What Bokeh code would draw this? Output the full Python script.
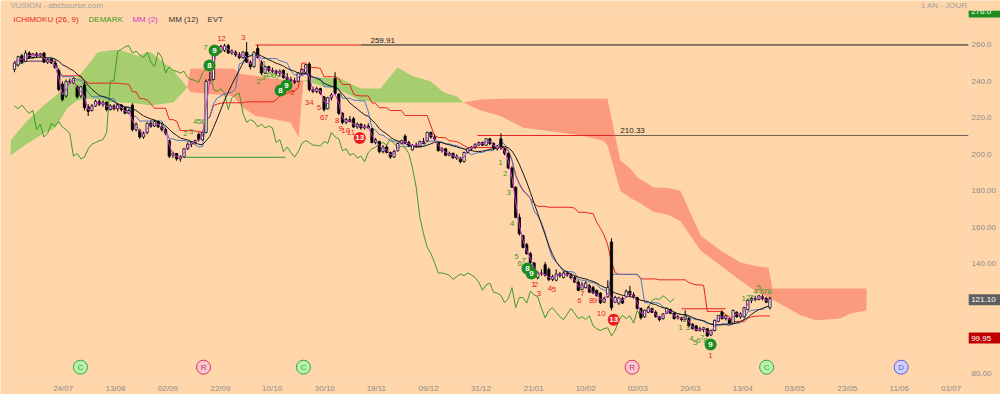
import pandas as pd
from bokeh.plotting import figure
from bokeh.models import Range1d, FixedTicker, LinearAxis, BoxAnnotation
from bokeh.embed import file_html
from bokeh.resources import INLINE
from bokeh.core.properties import value

FONT = "Liberation Sans"
BG = "#FFD6AA"
GREEN_CLOUD = "#A6CE6E"
RED_CLOUD = "#FB9A7C"

# ---------------- daily candles (trading-day index 0..205) ----------------
opens = [246.5, 249, 254, 251, 255.5, 253, 255, 254, 255.5, 250.5, 252, 250, 246, 238.5, 232, 240, 239, 237, 232, 238,
         226, 224, 226.5, 229, 227.5, 228.5, 224.5, 226.5, 225, 227, 225.5, 222.5, 227, 213.5, 213, 209.5, 212, 217, 215.5, 218,
         215, 213.5, 207.5, 199.5, 200.5, 197.5, 198.5, 203, 205.5, 206.5, 211, 208, 212, 241, 241, 256, 256.5, 257, 259.5, 255.5,
         256, 254.5, 253, 256, 250.5, 248, 258, 250.5, 244.5, 248, 246, 245.5, 244.5, 246, 242, 241, 240.5, 240, 244.5, 245,
         249.5, 235.5, 234.5, 236, 231.5, 225, 231, 241.5, 233, 222.5, 217.5, 219, 219.5, 215, 216.5, 214.5, 215.5, 214, 206.5, 207,
         201.5, 204, 201, 198.5, 202, 206, 210, 206.5, 202.5, 205, 204.5, 207, 207.5, 212, 209.5, 206.5, 202, 203, 199.5, 200.5,
         198, 198, 196, 201, 203, 204, 205, 206.5, 205, 208.5, 206, 203, 208.5, 203, 200.5, 192.5, 182, 165.5, 155.5, 150.5,
         145.6, 140.5, 132.5, 135, 139.5, 137, 131.5, 131, 134.5, 132.5, 135, 134, 132.5, 130, 126, 127, 128, 127, 125.4, 124,
         119, 122, 152, 119, 118.5, 121, 122, 125, 123, 121.5, 115.6, 111, 113.5, 115.5, 113.5, 111, 110, 113, 115, 113,
         110.5, 110.5, 109.5, 110, 107, 106, 103.5, 104, 104.5, 101, 103.5, 108.5, 113.5, 110, 110, 107.5, 113.5, 111, 111, 115,
         120, 121, 120.5, 122, 121, 116]
highs = [251, 254, 255, 257, 256.5, 255.5, 256, 255.5, 256, 252.5, 252.5, 251, 247, 240, 241, 241.5, 242, 238, 237.5, 240,
         227.5, 227.5, 230, 230, 229.5, 229, 227.5, 227.5, 228, 227.5, 226, 225, 228, 217.5, 214, 212.5, 217.5, 218.5, 219, 218.5,
         217.5, 214.5, 208, 201.5, 200.5, 199.5, 203.5, 206.5, 207, 208, 212, 212.5, 241, 245, 257.5, 259, 260, 260.5, 260.5, 257.5,
         257, 256, 256.5, 261.5, 251.5, 256.5, 260, 251.5, 248.5, 248.5, 247.5, 246.5, 246.5, 246.5, 244.5, 242.5, 242, 245, 247, 249.5,
         250.5, 237, 237, 236.5, 232, 231.5, 233.5, 245, 233.5, 223, 220, 221, 220.5, 217.5, 217, 216.5, 217, 214.5, 209, 207.5,
         205, 205, 201.5, 202.5, 206.5, 208, 211, 207.5, 205.5, 206.5, 207.5, 209, 212.5, 212.5, 211, 207, 204, 203.5, 201.5, 201,
         200, 198.5, 201.5, 203.5, 204.5, 206, 207, 207, 209, 209, 206.5, 205, 211.5, 203.5, 201, 193.5, 182.5, 167.5, 156, 151.5,
         146.5, 141, 136, 137, 141, 138, 134, 137, 135.5, 136, 136, 135, 133.5, 131, 130, 130.5, 129, 128, 126, 124.5,
         122, 131, 154, 122.5, 122, 122, 126, 128, 124.5, 122, 116, 115, 117, 116, 114.5, 111.5, 113, 116, 115.5, 113.5,
         112, 111, 114.5, 111, 107.5, 106.5, 105.5, 105.5, 105, 104, 109.5, 112, 114.5, 112, 110.5, 115, 114, 113.5, 116.5, 120.5,
         122, 122.5, 123, 123, 122, 122]
lows = [245, 248, 249.5, 250.5, 252.5, 252.5, 253, 253, 250, 249.5, 249.5, 247, 234.5, 229, 231, 238.5, 238.5, 230.5, 231, 224,
        221, 223.5, 226, 226.5, 226, 223.5, 224, 224, 223.5, 223.5, 222, 222, 212.5, 212.5, 208.5, 208.5, 211, 214.5, 215, 214.5,
        212.5, 210.5, 198, 198, 196.5, 196, 198, 202.5, 204, 205.5, 207, 207.5, 211.5, 238.5, 240.5, 254.5, 255.5, 256, 255, 254.5,
        253.5, 252, 252.5, 250, 246.5, 247.5, 252.5, 243.5, 244, 245, 244.5, 243.5, 242.5, 241.5, 240, 239.5, 238.5, 239.5, 243.5, 244,
        234.5, 233.5, 233.5, 232.5, 223.5, 224.5, 229.5, 232.5, 221.5, 216.5, 216.5, 217.5, 214.5, 214, 213.5, 213.5, 214, 206, 205.5, 200.5,
        200.5, 200.5, 197.5, 198, 201.5, 205.5, 206, 204, 202, 203.5, 204, 205.5, 207, 208.5, 207.5, 201.5, 201, 199, 199, 197.5,
        197, 195, 195.5, 200.5, 202, 203, 204.5, 204.5, 204.5, 205, 202.5, 202, 202.5, 199.5, 192, 181.5, 165, 155.5, 148.5, 145,
        140, 134.5, 131.5, 133.5, 133, 130.5, 130.5, 130.5, 132.5, 132, 133, 131.5, 129.5, 125, 125.5, 126.5, 124, 123.5, 122, 118,
        118.5, 121.5, 114.5, 118.5, 117.5, 118, 121.5, 122, 121, 115, 109.5, 110.5, 113, 113, 110.5, 108.5, 109.5, 112.5, 112.5, 109.5,
        109.5, 108.5, 109, 105.5, 104, 103, 103, 102.5, 99.95, 100.5, 103, 108, 109.5, 109, 107, 107, 110.5, 110, 110.5, 114.5,
        118.5, 119.5, 120, 120, 118.5, 115]
closes = [250, 253.5, 250.5, 255.5, 253, 255, 254, 255, 250.5, 252, 250, 247.5, 235.5, 230, 240, 239.5, 241.5, 231.5, 237, 225.5,
          223.5, 226.5, 229, 227.5, 228.5, 224.5, 226.5, 225, 227, 224.5, 222.5, 224, 213.5, 216.5, 209.5, 211.5, 217, 215.5, 218, 215,
          213.5, 211.5, 199, 200.5, 197.5, 198.5, 203, 205.5, 206.5, 207.5, 208, 212, 240, 240.5, 256.5, 257.5, 259, 259.5, 255.5, 256.5,
          254.5, 253, 256, 250.5, 248, 256, 253, 244.5, 248, 246, 245.5, 244.5, 245.5, 242, 241, 240.5, 239.5, 244.5, 246.5, 249,
          235.5, 234.5, 236, 233.5, 224.5, 231, 232.5, 233.5, 222.5, 217.5, 219, 218, 215, 216.5, 214.5, 215.5, 214.5, 206.5, 208, 201.5,
          204, 201, 198.5, 201.5, 206, 207.5, 206.5, 205, 205, 204.5, 207, 206, 212, 209.5, 208.5, 202, 203, 199.5, 200.5, 198,
          199, 196, 201, 203, 204, 205.5, 206.5, 205, 208.5, 206, 203.5, 204.5, 203.5, 200.5, 192.5, 182, 165.5, 156.5, 149, 145.6,
          140.7, 135, 135, 134.5, 133.8, 131.5, 133, 134.5, 133.5, 135, 134, 132.5, 130, 125.5, 128.5, 129.5, 124.5, 124, 122.6, 118.7,
          121, 127, 116, 121.6, 121.5, 118.5, 125, 123, 122, 115.6, 110.5, 114.5, 116, 113.5, 111, 109.5, 112.5, 115.6, 113, 110,
          111, 109.5, 111.5, 106, 104.5, 103.5, 104.5, 105, 100.5, 103.5, 109, 111.8, 110, 111.5, 107.5, 114.5, 111, 112.5, 116, 120,
          121, 120.5, 122.5, 121, 119, 121.1]

# ---------------- Ichimoku cloud (Senkou A / B) ----------------
cloud_idx = [-1.1, 3.5, 7.9, 11.1, 14.4, 17.1, 19.8, 22.5, 26.0, 28.8, 33.4, 36.9, 43.1, 46.9, 47.8, 59.4, 61.3, 65.4,
             69.5, 74.9, 77.1, 78.4, 83.0, 88.5, 93.9, 99.3, 103.9, 108.3, 112.9, 116.4, 120.2, 121.8, 126.5, 131.9,
             138.1, 148.2, 153.6, 159.8, 160.9, 164.4, 167.2, 169.1, 173.4, 177.2, 180.7, 186.2, 191.6, 197.0, 201.6,
             204.6, 205.7, 213.3, 217.4, 224.1, 226.9, 231.2]
senkou_a = [207.6, 218.5, 226.7, 232.0, 237.7, 242.0, 248.6, 255.8, 257.0, 257.0, 254.0, 256.0, 246.0, 236.6, 234.0, 232.0,
            226.7, 221.0, 219.6, 217.4, 209.5, 240.5, 242.0, 241.5, 236.0, 236.0, 247.6, 242.6, 240.0, 234.0, 231.5, 228.4,
            224.0, 221.0, 214.5, 212.0, 210.5, 207.5, 205.0, 180.0, 176.0, 174.0, 168.6, 167.0, 163.3, 147.3, 139.1, 130.9,
            124.3, 121.6, 120.5, 111.8, 109.1, 110.1, 112.8, 114.5]
senkou_b = [199.3, 206.0, 211.4, 214.6, 225.6, 229.5, 230.6, 230.0, 228.4, 228.4, 227.8, 226.7, 228.4, 236.6, 247.0, 247.0,
            244.0, 243.0, 241.6, 240.5, 240.5, 240.5, 237.7, 235.0, 229.5, 228.4, 228.4, 228.4, 228.4, 228.4, 228.4, 228.4,
            230.0, 230.5, 230.5, 230.5, 230.5, 230.5, 230.5, 196.6, 192.0, 187.3, 182.0, 181.5, 180.0, 155.5, 147.3, 140.7,
            138.6, 138.0, 126.5, 126.5, 126.5, 126.5, 126.5, 126.5]

# ---------------- axes ----------------
xtick_pos = [13.2, 27.4, 41.6, 55.9, 69.9, 84.2, 98.2, 112.4, 126.6, 140.9, 155.0, 169.1, 183.4, 197.6, 211.7,
             226.0, 240.1, 254.2]
xtick_labels = ["24/07", "13/08", "02/09", "22/09", "10/10", "30/10", "19/11", "09/12", "31/12", "21/01", "10/02",
                "02/03", "20/03", "13/04", "03/05", "23/05", "11/06", "01/07"]
ytick_vals = [80, 140, 160, 180, 200, 220, 240, 260]
ytick_labels = ["80.00", "140.00", "160.00", "180.00", "200.0", "220.0", "240.0", "260.0"]
last_close = 121.10
period_low = 99.95
top_tag = "276.0"

# ---------------- DeMark (TD) elements ----------------
tdl_x0 = [46.0, 65.4, 94.0, 125.6, 162.6, 181.0]
tdl_x1 = [73.5, 94.0, 258.9, 162.6, 258.9, 193.0]
tdl_y = [198.4, 259.91, 259.91, 210.33, 210.33, 115.4]
tdl_col = ["#2E9A2E", "#E8221E", "#1A1A1A", "#E8221E", "#6E6258", "#E8221E"]

tdg_x = [46.4, 47.9, 49.1, 50.2, 51.3, 51.8, 67.7, 66.3, 67.5, 68.4, 69.3, 70.4, 71.3,
         131.9, 133.2, 134.1, 135.1, 136.2, 137.1, 138.2,
         180.7, 181.8, 182.7, 183.7, 184.7, 185.6, 186.6, 187.5,
         197.9, 199.1, 200.0, 201.1, 202.0, 202.9, 203.8, 204.9]
tdg_y = [211.5, 212.7, 218, 218, 218, 258.5, 249.6, 240.1, 242.3, 243.2, 243.7, 243.2, 242.3,
         195.5, 189.5, 179, 162, 144, 140.2, 141.7,
         105, 109.4, 105, 99, 96.7, 98, 99.5, 98,
         120.9, 121.8, 121.8, 124.9, 127.2, 124.9, 124.9, 124.9]
tdg_t = ["2", "3", "4", "5", "6", "7", "1", "2", "3", "4", "5", "6", "7",
         "1", "2", "3", "4", "5", "6", "7",
         "1", "2", "3", "4", "5", "6", "7", "8",
         "1", "2", "3", "4", "5", "6", "7", "8"]
tdr_x = [55.6, 56.7, 62.1, 75.4, 79.4, 80.6, 82.6, 83.5, 84.6, 87.6, 88.5, 89.9, 91.3,
         140.8, 141.5, 142.3, 145.3, 146.4, 153.3, 154.1, 156.5, 157.5, 159.2, 188.9]
tdr_y = [263.5, 263.5, 264, 234, 228.6, 228.6, 225.8, 220, 220, 218.5, 214, 213, 212.1,
         128.7, 128.7, 124, 126.3, 126, 120, 124, 120, 120, 112.6, 89.8]
tdr_t = ["1", "2", "3", "2", "3", "4", "5", "6", "7", "8", "9", "10", "11",
         "1", "2", "3", "4", "5", "6", "7", "8", "9", "10", "1"]
tdc_x = [52.9, 54.3, 72.2, 73.8, 139.2, 140.3, 188.9, 93.7, 162.6]
tdc_y = [248.7, 256.9, 235.0, 237.7, 137.5, 134.7, 95.8, 209.0, 109.4]
tdc_t = ["8", "9", "8", "9", "8", "9", "9", "13", "13"]
tdc_col = ["#1E8C1E"] * 7 + ["#EE1C1C"] * 2

# ---------------- events ----------------
evt_x = [17.9, 51.3, 78.4, 167.6, 204.1, 240.6]
evt_t = ["C", "R", "C", "R", "C", "D"]
evt_fill = {"C": "#B8F2B0", "R": "#F9C6CF", "D": "#CFD0FF"}
evt_line = {"C": "#33AA33", "R": "#D23A5C", "D": "#5B5BE0"}
evt_level = 83.4

# ---------------- derived indicator lines ----------------
N = len(closes)
idx = list(range(N))
c = pd.Series(closes)
h = pd.Series(highs)
l = pd.Series(lows)
ma2 = c.rolling(2, min_periods=1).mean()
ma12 = c.rolling(12, min_periods=1).mean()
tenkan = (h.rolling(9, min_periods=1).max() + l.rolling(9, min_periods=1).min()) / 2
kijun = (h.rolling(26, min_periods=1).max() + l.rolling(26, min_periods=1).min()) / 2

# whole canvas is the frame: x_px = 14 + 3.685*i ; y_px = 44.3 + (260 - v)*1.8255
X_AXIS_AT = 258.9     # price axis position (right edge of the chart area)
Y_AXIS_AT = 78.3      # date axis position (bottom of the chart area)
p = figure(width=1000, height=394,
           x_range=Range1d(-3.799, 267.57), y_range=Range1d(68.44, 284.27),
           output_backend="svg", toolbar_location=None,
           x_axis_location=None, y_axis_location=None, min_border=0,
           background_fill_color=BG, border_fill_color=BG, outline_line_color=None)
p.grid.visible = False

def style_axis(ax):
    ax.axis_line_color = None
    ax.major_tick_line_color = None
    ax.minor_tick_line_color = None
    ax.major_label_text_font = FONT
    ax.major_label_text_font_size = "8px"
    ax.major_label_text_color = "#8C8C8C"

yax = LinearAxis(fixed_location=X_AXIS_AT, ticker=FixedTicker(ticks=ytick_vals),
                 major_label_overrides={v: t for v, t in zip(ytick_vals, ytick_labels)},
                 major_tick_out=0, major_tick_in=0, major_label_standoff=3)
style_axis(yax)
p.add_layout(yax, "right")
xax = LinearAxis(fixed_location=Y_AXIS_AT, ticker=FixedTicker(ticks=xtick_pos),
                 major_label_overrides={v: t for v, t in zip(xtick_pos, xtick_labels)},
                 major_tick_out=0, major_tick_in=0, major_label_standoff=7)
style_axis(xax)
p.add_layout(xax, "below")

# faint chart-area border
p.add_layout(BoxAnnotation(left=-1.085, right=X_AXIS_AT, top=276.6, bottom=Y_AXIS_AT,
                           fill_alpha=0, line_color="#FBE6D1", line_width=1))

# cloud
top = [max(a, b) for a, b in zip(senkou_a, senkou_b)]
p.varea(x=cloud_idx, y1=senkou_b, y2=top, fill_color=GREEN_CLOUD)
p.varea(x=cloud_idx, y1=senkou_a, y2=top, fill_color=RED_CLOUD)

# TD lines
p.segment(x0=tdl_x0, x1=tdl_x1, y0=tdl_y, y1=tdl_y, line_color=tdl_col, line_width=1)

# chikou (close shifted back 26 sessions), kijun, tenkan, MM(12)
p.line(x=[i - 26 for i in idx[26:]], y=closes[26:], line_color="#3D9A25", line_width=1)
p.line(x=idx, y=kijun, line_color="#E8221E", line_width=1)
p.line(x=idx, y=tenkan, line_color="#4A78C0", line_width=1)
p.line(x=idx, y=ma12, line_color="#1A1A1A", line_width=1)

# candles
body_top = [max(o, cl) for o, cl in zip(opens, closes)]
body_bot = [min(o, cl) for o, cl in zip(opens, closes)]
fills = ["white" if cl >= o else "black" for o, cl in zip(opens, closes)]
p.segment(x0=idx, x1=idx, y0=lows, y1=highs, line_color="black", line_width=1)
p.vbar(x=idx, width=0.62, top=body_top, bottom=body_bot, fill_color=fills, line_color="black", line_width=0.8)

# MM(2)
p.line(x=idx, y=ma2, line_color="#D63CD6", line_width=1)

# DeMark counts
txt = dict(text_font=value(FONT), text_font_size="8px", text_align="center", text_baseline="middle")
p.text(x=tdg_x, y=tdg_y, text=tdg_t, text_color="#3A9A22", **txt)
p.text(x=tdr_x, y=tdr_y, text=tdr_t, text_color="#E8221E", **txt)
p.scatter(x=tdc_x, y=tdc_y, size=12, fill_color=tdc_col, line_color=None)
p.text(x=tdc_x, y=tdc_y, text=tdc_t, text_color="white", text_font_style="bold", **txt)

# TD level labels
p.text(x=[96.6, 164.4], y=[262.4, 213.0], text=["259.91", "210.33"], text_color="#222222",
       text_font=value(FONT), text_font_size="8px", text_align="left", text_baseline="middle")

# events
p.scatter(x=evt_x, y=[evt_level - 1.9] * len(evt_x), marker="inverted_triangle", size=4,
          fill_color=[evt_line[t] for t in evt_t], line_color=None)
p.scatter(x=evt_x, y=[evt_level] * len(evt_x), size=14, fill_color=[evt_fill[t] for t in evt_t],
          line_color=[evt_line[t] for t in evt_t], line_width=1)
p.text(x=evt_x, y=[evt_level] * len(evt_x), text=evt_t, text_color=[evt_line[t] for t in evt_t], **txt)

# legend and header texts
leg_x = [-0.35, 20.1, 32.0, 41.8, 52.4]
leg_t = ["ICHIMOKU (26, 9)", "DEMARK", "MM (2)", "MM (12)", "EVT"]
leg_c = ["#E8221E", "#3A9A22", "#D63CD6", "#333333", "#333333"]
left_txt = dict(text_font=value(FONT), text_font_size="8px", text_align="left", text_baseline="middle")
p.text(x=leg_x, y=[273.9] * 5, text=leg_t, text_color=leg_c, **left_txt)
p.text(x=[-1.085], y=[281.6], text=["VUSION - abcbourse.com"], text_color="#A0A0A0", **left_txt)
p.text(x=[258.6], y=[281.6], text=["1 AN - JOUR"], text_color="#A0A0A0",
       text_font=value(FONT), text_font_size="8px", text_align="right", text_baseline="middle")

# price tags on the price axis
tag_x = (X_AXIS_AT + 267.57) / 2
tag_w = 267.57 - X_AXIS_AT
p.rect(x=[tag_x, tag_x], y=[last_close - 0.8, period_low - 0.6], width=tag_w, height=6.0,
       fill_color=["#5E5E5E", "#C00000"], line_color=None)
p.text(x=[X_AXIS_AT + 0.7, X_AXIS_AT + 0.7], y=[last_close - 0.8, period_low - 0.6],
       text=["121.10", "99.95"], text_color="white", **left_txt)
# top tag, upper half hidden under the header band
p.rect(x=[tag_x], y=[276.87], width=tag_w, height=3.83, fill_color="#1E8C1E", line_color=None)
p.text(x=[X_AXIS_AT + 0.7], y=[278.24], text=[top_tag], text_color="white", **left_txt)
p.rect(x=[tag_x], y=[281.53], width=tag_w, height=5.48, fill_color=BG, line_color=None)

open("out.html", "w").write(file_html(p, INLINE))
